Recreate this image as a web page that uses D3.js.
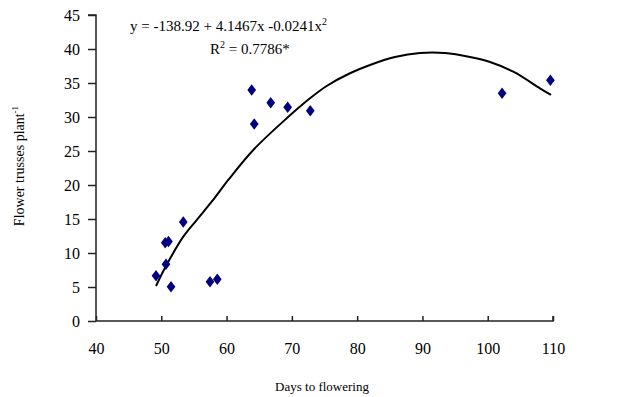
<!DOCTYPE html>
<html><head><meta charset="utf-8">
<script src="https://cdn.jsdelivr.net/npm/d3@7"></script>
<style>html,body{margin:0;padding:0;background:#fff;}</style>
</head><body>
<svg id="c" width="624" height="397"></svg>
<script>
const daysToFlowering = [49.19, 50.72, 50.6, 51.1, 51.49, 53.37, 57.46, 58.58, 63.85, 64.24, 66.76, 69.36, 72.82, 102.2, 109.6];
const trussesPerPlant = [6.66, 8.34, 11.5, 11.7, 5.04, 14.56, 5.78, 6.13, 33.97, 28.97, 32.1, 31.43, 30.93, 33.5, 35.4];
const trendX = [49.19, 50.72, 53.37, 55.42, 57.72, 60.26, 64.09, 69.21, 72.78, 75.33, 78.9, 81.97, 85.8, 89.62, 93.45, 97.28, 100.35, 103.92, 108.0, 109.69];
const trendY = [5.15, 8.09, 12.4, 14.85, 17.54, 20.74, 25.15, 29.81, 32.75, 34.56, 36.43, 37.65, 38.82, 39.41, 39.41, 38.82, 38.09, 36.66, 34.22, 33.24];
const xTicks = [40, 50, 60, 70, 80, 90, 100, 110];
const yTicks = [0, 5, 10, 15, 20, 25, 30, 35, 40, 45];

const svg = d3.select("#c");
const x = d3.scaleLinear().domain([40, 110]).range([96, 553]);
const y = d3.scaleLinear().domain([0, 45]).range([321, 15]);
const font = "'Liberation Serif','Times New Roman',serif";

// axes
const ya = svg.append("g").attr("transform", "translate(96,0)")
  .call(d3.axisLeft(y).tickValues(yTicks).tickSize(8).tickPadding(8).tickFormat(d3.format("d")));
const xa = svg.append("g").attr("transform", "translate(0,321)")
  .call(d3.axisBottom(x).tickValues(xTicks).tickSize(-5).tickPadding(22).tickFormat(d3.format("d")));
[ya, xa].forEach(g => {
  g.select(".domain").attr("stroke", "#222").attr("stroke-width", 1.5);
  g.selectAll(".tick line").attr("stroke", "#222").attr("stroke-width", 1.5);
  g.selectAll("text").attr("font-family", font).attr("font-size", 16).attr("fill", "#000");
});
ya.select(".domain").attr("d", "M0,321V15H-8");
xa.select(".domain").attr("d", `M96,0H553V-5`);

// trend line
const pts = trendX.map((d, i) => [d, trendY[i]]);
svg.append("path").datum(pts)
  .attr("fill", "none").attr("stroke", "#000").attr("stroke-width", 2)
  .attr("d", d3.line().x(d => x(d[0])).y(d => y(d[1])).curve(d3.curveCatmullRom));

// points
const sym = d3.symbol().type(d3.symbolDiamond).size(42);
svg.append("g").selectAll("path").data(daysToFlowering.map((d, i) => [d, trussesPerPlant[i]]))
  .join("path")
  .attr("transform", d => `translate(${x(d[0])},${y(d[1])}) scale(1.25,0.95)`)
  .attr("d", sym).attr("fill", "#000080");

// equation
const eq = svg.append("text").attr("x", 130).attr("y", 31).attr("font-family", font).attr("font-size", 15);
eq.append("tspan").text("y = -138.92 + 4.1467x -0.0241x");
eq.append("tspan").attr("font-size", 10).attr("dy", -6).text("2");
const r2 = svg.append("text").attr("x", 210).attr("y", 54).attr("font-family", font).attr("font-size", 15);
r2.append("tspan").text("R");
r2.append("tspan").attr("font-size", 10).attr("dy", -6).text("2");
r2.append("tspan").attr("dy", 6).text(" = 0.7786*");

// axis titles
svg.append("text").attr("x", 322).attr("y", 391).attr("text-anchor", "middle")
  .attr("font-family", font).attr("font-size", 13).text("Days to flowering");
const yl = svg.append("text").attr("transform", "translate(24,166) rotate(-90)").attr("text-anchor", "middle")
  .attr("font-family", font).attr("font-size", 14);
yl.append("tspan").text("Flower trusses plant");
yl.append("tspan").attr("font-size", 9).attr("dy", -6).text("-1");
</script>
</body></html>
